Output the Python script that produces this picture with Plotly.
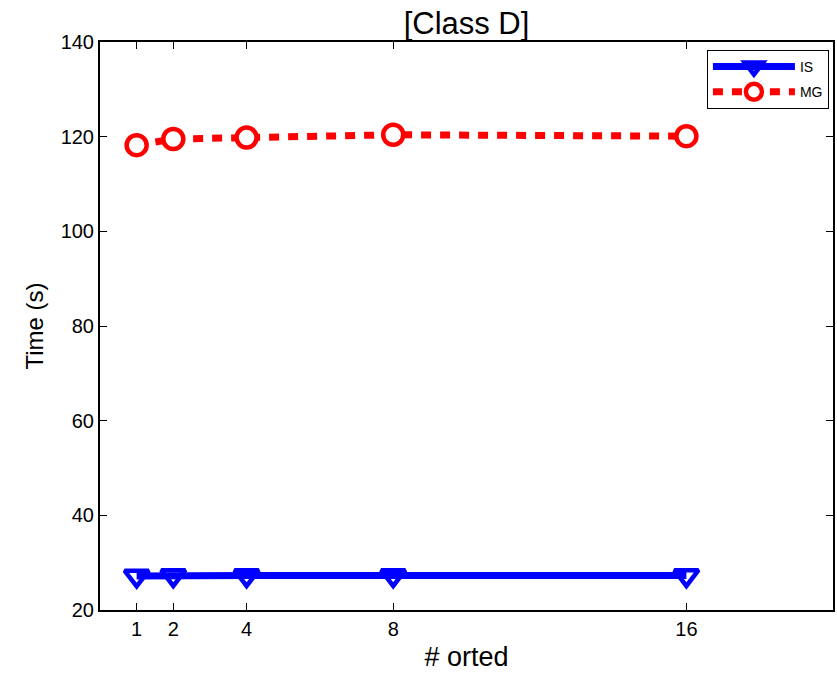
import plotly.graph_objects as go

# Number of sorted parts vs. run time for Class D
parts = [1, 2, 4, 8, 16]
is_time = [27.2, 27.3, 27.3, 27.3, 27.3]
mg_time = [118.2, 119.5, 119.8, 120.4, 120.1]
x_ticks = [1, 2, 4, 8, 16]
y_ticks = [20, 40, 60, 80, 100, 120, 140]

fig = go.Figure()
fig.add_trace(go.Scatter(
    x=parts, y=is_time, name="IS", mode="lines+markers",
    legendgroup="is",
    line=dict(color="#0000ff", width=7),
    marker=dict(symbol="triangle-down-open", size=21, color="#0000ff",
                line=dict(width=4.5, color="#0000ff")),
))
fig.add_trace(go.Scatter(
    x=parts, y=mg_time, name="MG", mode="lines+markers",
    legendgroup="mg",
    line=dict(color="#ff0000", width=7, dash="10px,9px"),
    marker=dict(symbol="circle", size=20, color="white",
                line=dict(width=4.5, color="#ff0000")),
))

tick_font = dict(family="Liberation Sans, Arial, sans-serif", size=20, color="black")
fig.update_layout(
    width=837, height=673,
    margin=dict(l=100, r=2, t=42, b=63),
    paper_bgcolor="white", plot_bgcolor="white",
    font=dict(family="Liberation Sans, Arial, sans-serif", color="black"),
    title=dict(text="[Class D]", x=0.5, xanchor="center", xref="paper",
               y=1 - 23 / 673, yanchor="middle",
               font=dict(size=31, color="black")),
    xaxis=dict(range=[0, 20], tickvals=x_ticks, ticktext=[str(v) for v in x_ticks],
               ticks="inside", ticklen=7, tickcolor="black", mirror="ticks",
               showline=True, linecolor="black", linewidth=2, showgrid=False,
               zeroline=False, tickfont=tick_font,
               title=dict(text="# orted", font=dict(size=27), standoff=8)),
    yaxis=dict(range=[20, 140], tickvals=y_ticks,
               ticks="inside", ticklen=7, tickcolor="black", mirror="ticks",
               showline=True, linecolor="black", linewidth=2, showgrid=False,
               zeroline=False, tickfont=tick_font,
               title=dict(text="Time (s)", font=dict(size=24), standoff=10)),
    legend=dict(x=0.828, y=0.986, xanchor="left", yanchor="top",
                bgcolor="white", bordercolor="black", borderwidth=1,
                font=dict(size=14), tracegroupgap=4, itemwidth=82),
    showlegend=True,
)

fig.write_html("out.html")
